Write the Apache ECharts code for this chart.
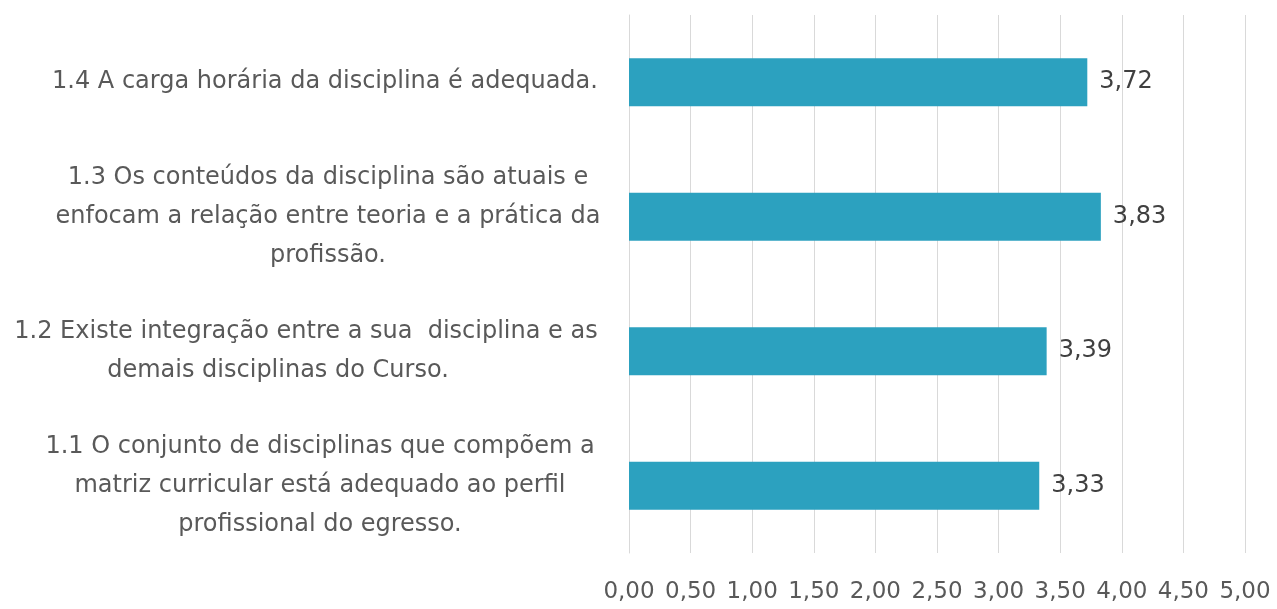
<!DOCTYPE html>
<html>
<head>
<meta charset="utf-8">
<script src="https://cdn.jsdelivr.net/npm/echarts@6/dist/echarts.min.js"></script>
<style>
  html, body { margin: 0; padding: 0; background: #fff; }
  #chart { width: 1277px; height: 609px; }
</style>
</head>
<body>
<div id="chart"></div>
<script>
// data
var categories = [
  '1.1 O conjunto de disciplinas que compõem a\nmatriz curricular está adequado ao perfil\nprofissional do egresso.',
  '1.2 Existe integração entre a sua  disciplina e as\ndemais disciplinas do Curso.',
  '1.3 Os conteúdos da disciplina são atuais e\nenfocam a relação entre teoria e a prática da\nprofissão.',
  '1.4 A carga horária da disciplina é adequada.'
]
var values = [3.33, 3.39, 3.83, 3.72]
var xTicks = { min: 0, max: 5, interval: 0.5 }

// horizontal shift of each wrapped line (px), so lines sit like in the source
var lineShift = [[0, 0, 0], [-14, -42], [8, 8, 8], [5]]

function fmt(v) {
  return Number(v).toFixed(2).replace('.', ',')
}

var rich = {}
lineShift.forEach(function (arr, i) {
  arr.forEach(function (o, j) {
    rich['l' + i + '_' + j] = {
      color: '#595959',
      fontSize: 24,
      lineHeight: 39,
      fontFamily: 'DejaVu Sans',
      padding: o < 0 ? [0, -2 * o, 0, 0] : [0, 0, 0, 2 * o]
    }
  })
})

var chart = echarts.init(document.getElementById('chart'))
chart.setOption({
  backgroundColor: '#fff',
  animation: false,
  textStyle: { fontFamily: 'DejaVu Sans' },
  grid: { left: 629, right: 32, top: 15, bottom: 56, containLabel: false },
  xAxis: {
    type: 'value',
    min: xTicks.min,
    max: xTicks.max,
    interval: xTicks.interval,
    axisLine: { show: false },
    axisTick: { show: false },
    splitLine: { show: true, lineStyle: { color: '#d9d9d9', width: 1 } },
    axisLabel: {
      color: '#595959',
      fontSize: 23,
      margin: 28,
      formatter: fmt
    }
  },
  yAxis: {
    type: 'category',
    data: categories,
    axisLine: { show: true, lineStyle: { color: '#d9d9d9' } },
    axisTick: { show: false },
    axisLabel: {
      color: '#595959',
      fontSize: 24,
      lineHeight: 39,
      align: 'center',
      margin: 309,
      formatter: function (value, idx) {
        return value.split('\n').map(function (line, j) {
          return '{l' + idx + '_' + j + '|' + line + '}'
        }).join('\n')
      },
      rich: rich
    }
  },
  series: [{
    type: 'bar',
    data: values,
    barWidth: 48,
    itemStyle: { color: '#2ca1bf' },
    label: {
      show: true,
      position: 'right',
      distance: 12,
      color: '#404040',
      fontSize: 24,
      formatter: function (p) { return fmt(p.value) }
    }
  }]
})
</script>
</body>
</html>
